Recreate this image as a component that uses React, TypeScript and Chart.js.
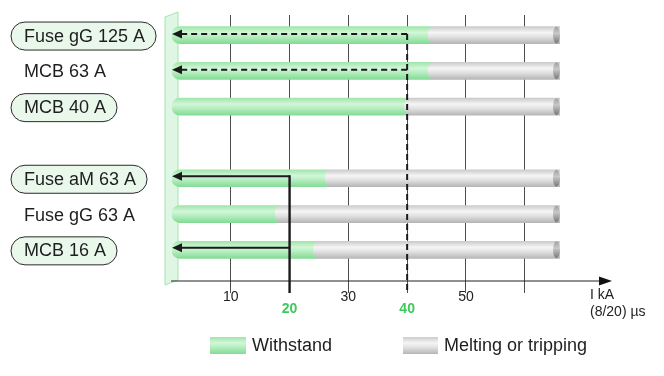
import { useEffect, useRef } from 'react';
import { Chart, registerables } from 'chart.js';

Chart.register(...registerables);

// ---------- data ----------
const categories = ['Fuse gG 125 A', 'MCB 63 A', 'MCB 40 A', 'Fuse aM 63 A', 'Fuse gG 63 A', 'MCB 16 A'];
const rowIndex = [0, 1, 2, 4, 5, 6];
const pillLabels = [true, false, true, true, false, true];
const withstandEnd = [44, 44, 40, 26.5, 18, 24.5];
const trippingEnd = [66, 66, 66, 66, 66, 66];
const tickValues = [10, 20, 30, 40, 50, 60];
const tickLabels = ['10', '20', '30', '40', '50', ''];
const markedTicks = [20, 40];
const dashedRows = [0, 1];
const dashedLevel = 40;
const solidRows = [3, 5];
const solidLevel = 20;
const seriesLabels = ['Withstand', 'Melting or tripping'];
const axisTitle = ['I kA', '(8/20) µs'];

const FONT = '"Liberation Sans", Arial, Helvetica, sans-serif';
const BAR_H = 17;
const Y_MIN = -0.56;
const Y_MAX = 6.87;

function greenGrad(ctx: CanvasRenderingContext2D, top: number, bottom: number) {
  const g = ctx.createLinearGradient(0, top, 0, bottom);
  g.addColorStop(0, '#9fe6ab');
  g.addColorStop(0.35, '#d3f6d9');
  g.addColorStop(0.6, '#b5eebf');
  g.addColorStop(1, '#84db96');
  return g;
}
function grayGrad(ctx: CanvasRenderingContext2D, top: number, bottom: number) {
  const g = ctx.createLinearGradient(0, top, 0, bottom);
  g.addColorStop(0, '#cbcbcb');
  g.addColorStop(0.35, '#f5f5f5');
  g.addColorStop(0.6, '#e2e2e2');
  g.addColorStop(1, '#b6b6b6');
  return g;
}
function capGrad(ctx: CanvasRenderingContext2D, top: number, bottom: number) {
  const g = ctx.createLinearGradient(0, top, 0, bottom);
  g.addColorStop(0, '#a0a0a0');
  g.addColorStop(0.4, '#c8c8c8');
  g.addColorStop(1, '#767676');
  return g;
}

const barFill = (kind: 'g' | 's') => (c: any) => {
  const fallback = kind === 'g' ? '#b5ecbf' : '#dcdcdc';
  const chart = c.chart;
  const ys = chart && chart.scales && chart.scales.y;
  if (c.type !== 'data' || !ys || !c.parsed) return fallback;
  const yc = ys.getPixelForValue(c.parsed.y);
  if (!Number.isFinite(yc)) return fallback;
  const f = kind === 'g' ? greenGrad : grayGrad;
  return f(chart.ctx, yc - BAR_H / 2, yc + BAR_H / 2);
};

function arrowLeft(ctx: CanvasRenderingContext2D, x: number, y: number) {
  ctx.beginPath();
  ctx.moveTo(x, y);
  ctx.lineTo(x + 10, y - 4.5);
  ctx.lineTo(x + 10, y + 4.5);
  ctx.closePath();
  ctx.fill();
}

const decorPlugin = {
  id: 'decor',
  beforeDatasetsDraw(chart: any) {
    const { ctx, chartArea, scales } = chart;
    const x0 = scales.x.getPixelForValue(0);
    const t = chartArea.top;
    const b = chartArea.bottom;
    ctx.save();
    ctx.beginPath();
    ctx.moveTo(x0 - 7, t + 2);
    ctx.lineTo(x0 + 6, t - 3);
    ctx.lineTo(x0 + 6, b - 1);
    ctx.lineTo(x0 - 7, b + 4);
    ctx.closePath();
    ctx.fillStyle = 'rgba(200,240,208,0.6)';
    ctx.fill();
    ctx.strokeStyle = '#a4e4b0';
    ctx.lineWidth = 1;
    ctx.stroke();
    ctx.restore();
  },
  afterDatasetsDraw(chart: any) {
    const { ctx, chartArea, scales } = chart;
    const xs = scales.x;
    const ys = scales.y;
    ctx.save();
    const meta = chart.getDatasetMeta(1);
    meta.data.forEach((el: any) => {
      const p = el.getProps(['x', 'y', 'base', 'height'], true);
      const h = p.height;
      const top = p.y - h / 2;
      const bot = p.y + h / 2;
      if (![p.x, p.y, p.base, h].every(Number.isFinite)) return;
      ctx.beginPath();
      ctx.ellipse(p.base + 2, p.y, 5, h / 2, 0, 0, Math.PI * 2);
      ctx.fillStyle = grayGrad(ctx, top, bot);
      ctx.fill();
      ctx.beginPath();
      ctx.ellipse(p.x - 3.5, p.y, 3.5, h / 2, 0, 0, Math.PI * 2);
      ctx.fillStyle = capGrad(ctx, top, bot);
      ctx.fill();
    });

    const x0 = xs.getPixelForValue(0);
    const yb = chartArea.bottom;
    ctx.strokeStyle = '#222';
    ctx.fillStyle = '#111';
    ctx.lineWidth = 1.2;
    ctx.beginPath();
    ctx.moveTo(x0 - 1, yb);
    ctx.lineTo(602, yb);
    ctx.stroke();
    ctx.beginPath();
    ctx.moveTo(612, yb);
    ctx.lineTo(599, yb - 4.5);
    ctx.lineTo(599, yb + 4.5);
    ctx.closePath();
    ctx.fill();

    const xd = xs.getPixelForValue(dashedLevel);
    ctx.strokeStyle = '#1a1a1a';
    ctx.fillStyle = '#1a1a1a';
    ctx.lineWidth = 2;
    ctx.setLineDash([6, 4]);
    dashedRows.forEach((r) => {
      const y = ys.getPixelForValue(rowIndex[r]) - 1;
      ctx.beginPath();
      ctx.moveTo(xd, y);
      ctx.lineTo(x0 + 8, y);
      ctx.stroke();
    });
    const yTopD = ys.getPixelForValue(rowIndex[dashedRows[0]]) - 1;
    ctx.beginPath();
    ctx.moveTo(xd, yTopD);
    ctx.lineTo(xd, yb + 12);
    ctx.stroke();
    ctx.setLineDash([]);
    dashedRows.forEach((r) => {
      const y = ys.getPixelForValue(rowIndex[r]) - 1;
      arrowLeft(ctx, x0, y);
    });

    const xsol = xs.getPixelForValue(solidLevel);
    ctx.lineWidth = 2;
    solidRows.forEach((r) => {
      const y = ys.getPixelForValue(rowIndex[r]) - 2;
      ctx.beginPath();
      ctx.moveTo(xsol, y);
      ctx.lineTo(x0 + 8, y);
      ctx.stroke();
      arrowLeft(ctx, x0, y);
    });
    const yTopS = ys.getPixelForValue(rowIndex[solidRows[0]]) - 3;
    ctx.lineWidth = 2.4;
    ctx.beginPath();
    ctx.moveTo(xsol, yTopS);
    ctx.lineTo(xsol, yb + 12);
    ctx.stroke();
    ctx.restore();
  },
  afterDraw(chart: any) {
    const { ctx, scales } = chart;
    const ys = scales.y;
    ctx.save();
    ctx.font = `18px ${FONT}`;
    ctx.textBaseline = 'middle';
    ctx.textAlign = 'left';
    categories.forEach((label, i) => {
      const y = ys.getPixelForValue(rowIndex[i]);
      const tx = 24;
      const w = ctx.measureText(label).width;
      if (pillLabels[i]) {
        const left = tx - 13;
        const right = tx + w + 11;
        const h = 28;
        const top = y + 1 - h / 2;
        ctx.beginPath();
        ctx.roundRect(left, top, right - left, h, h / 2);
        ctx.fillStyle = '#eaf8ec';
        ctx.fill();
        ctx.strokeStyle = '#2a2a2a';
        ctx.lineWidth = 1;
        ctx.stroke();
      }
      ctx.fillStyle = '#1e1e1e';
      ctx.fillText(label, tx, y + 1.5);
    });

    ctx.font = `14px ${FONT}`;
    ctx.fillStyle = '#222';
    ctx.fillText(axisTitle[0], 590, 295);
    ctx.fillText(axisTitle[1], 590, 312);

    const sw = [
      { x: 210, w: 36, grad: greenGrad },
      { x: 403, w: 35, grad: grayGrad },
    ];
    ctx.font = `18px ${FONT}`;
    seriesLabels.forEach((lab, i) => {
      const s = sw[i];
      ctx.fillStyle = s.grad(ctx, 337, 354);
      ctx.fillRect(s.x, 337, s.w, 17);
      ctx.fillStyle = '#1e1e1e';
      ctx.fillText(lab, s.x + s.w + 6, 346);
    });
    ctx.restore();
  },
};

export default function App() {
  const ref = useRef<HTMLCanvasElement | null>(null);
  useEffect(() => {
    document.body.style.margin = '0';
    const canvas = ref.current;
    if (!canvas) return;
    const chart = new Chart(canvas, {
      type: 'bar',
      data: {
        datasets: [
          {
            label: seriesLabels[0],
            data: withstandEnd.map((v, i) => ({ x: [0, v], y: rowIndex[i] })) as any,
            backgroundColor: barFill('g') as any,
            borderWidth: 0,
            borderSkipped: false,
            borderRadius: { topLeft: 8, bottomLeft: 8, topRight: 0, bottomRight: 0 },
            barThickness: BAR_H,
            grouped: false,
            order: 1,
          },
          {
            label: seriesLabels[1],
            data: trippingEnd.map((v, i) => ({ x: [withstandEnd[i], v], y: rowIndex[i] })) as any,
            backgroundColor: barFill('s') as any,
            borderWidth: 0,
            borderSkipped: false,
            borderRadius: 0,
            barThickness: BAR_H,
            grouped: false,
            order: 0,
          },
        ],
      },
      options: {
        indexAxis: 'y',
        animation: false,
        responsive: false,
        devicePixelRatio: 1,
        layout: { padding: { left: 172, right: 104, top: 15, bottom: 0 } },
        plugins: { legend: { display: false }, tooltip: { enabled: false } },
        scales: {
          y: {
            type: 'linear',
            reverse: true,
            offset: false,
            bounds: 'data',
            min: Y_MIN,
            max: Y_MAX,
            display: false,
            grid: { offset: false, display: false },
          },
          x: {
            type: 'linear',
            position: 'bottom',
            min: 0,
            max: 66,
            afterBuildTicks: (s: any) => {
              s.ticks = tickValues.map((v) => ({ value: v }));
            },
            afterFit: (s: any) => {
              s.height = 95;
            },
            border: { display: false },
            grid: {
              color: '#4d4d4d',
              lineWidth: 1,
              drawTicks: true,
              tickLength: 12,
              tickColor: '#4d4d4d',
            },
            ticks: {
              autoSkip: false,
              maxRotation: 0,
              padding: -2,
              callback: (v: any) => {
                const i = tickValues.indexOf(Number(v));
                const t = i >= 0 ? tickLabels[i] : '';
                return markedTicks.includes(Number(v)) ? ['', t] : t;
              },
              color: (c: any) => (c.tick && markedTicks.includes(c.tick.value) ? '#3dcb5b' : '#222'),
              font: (c: any) => ({
                family: FONT,
                size: 14,
                weight: c.tick && markedTicks.includes(c.tick.value) ? 'bold' : 'normal',
                lineHeight: '12px',
              }),
            } as any,
          },
        },
      },
      plugins: [decorPlugin],
    } as any);
    return () => chart.destroy();
  }, []);
  return (
    <div style={{ width: 664, height: 376 }}>
      <canvas ref={ref} width={664} height={376} style={{ display: 'block' }} />
    </div>
  );
}
